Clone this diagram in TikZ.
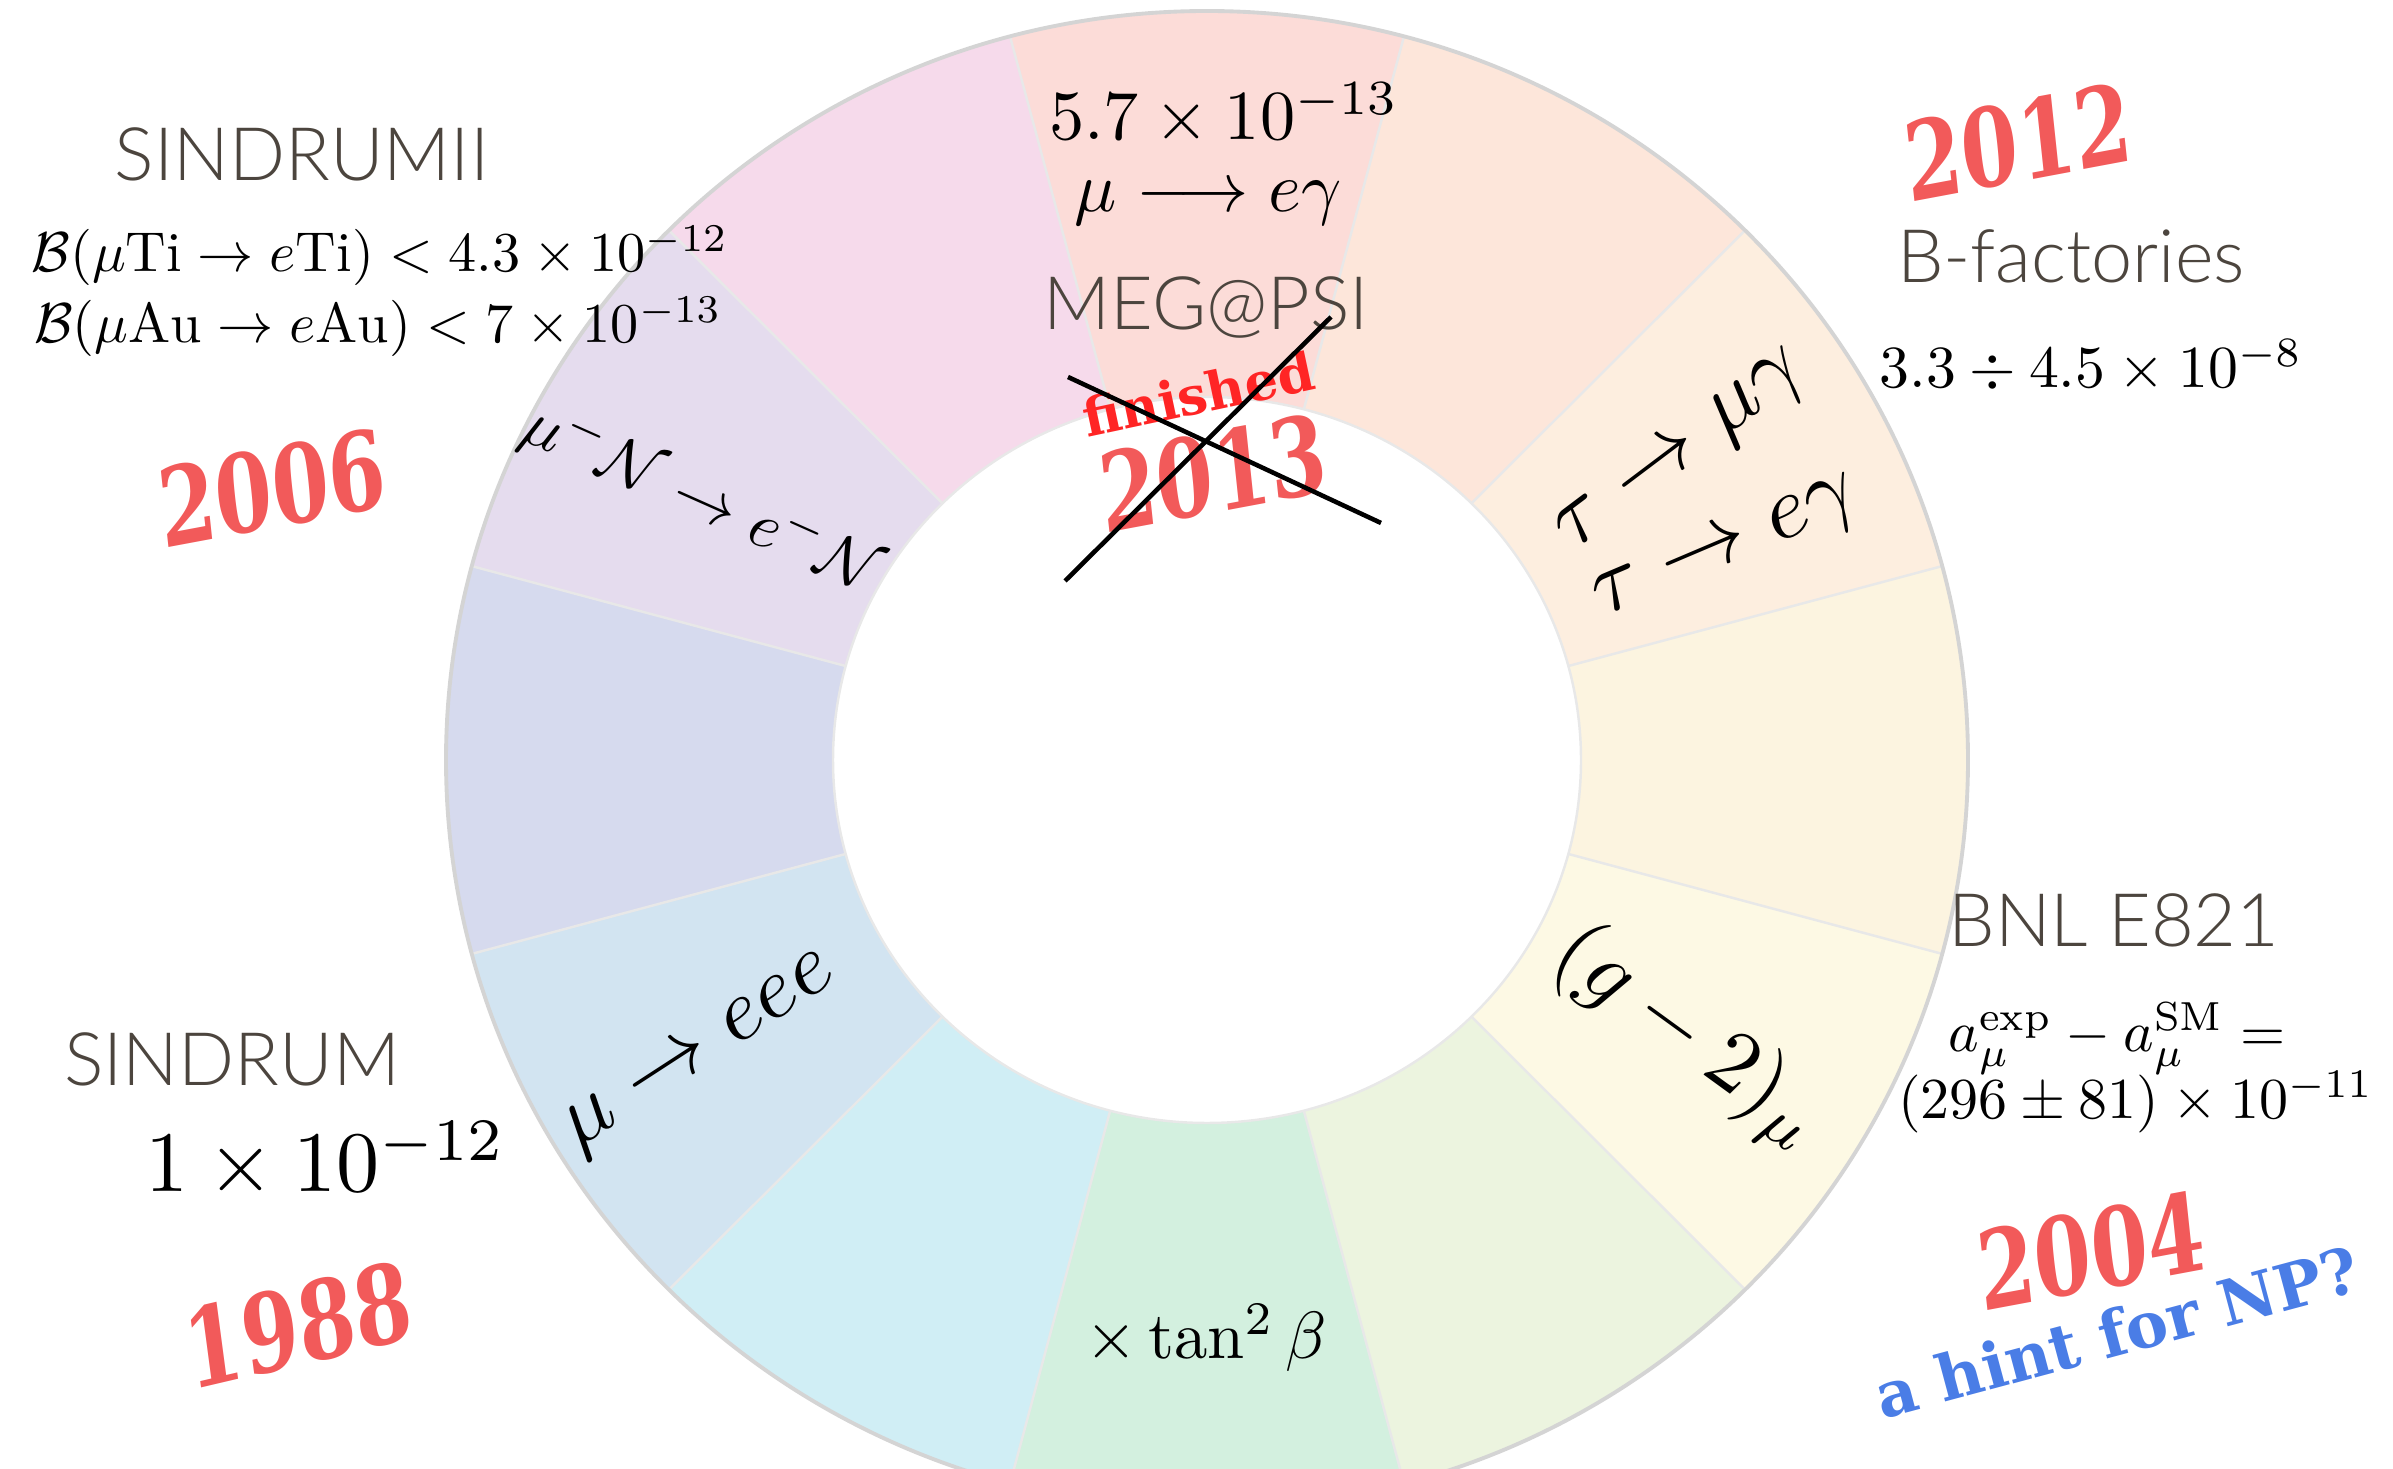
\documentclass[tikz,border=0pt]{standalone}
\usepackage{amsmath}
\usepackage{fontspec}
\newfontfamily\labfont{Lato Light}
\newfontfamily\stampfont{DejaVu Serif}
\definecolor{sA}{HTML}{FCDCD8}
\definecolor{sB}{HTML}{FDE6DA}
\definecolor{sC}{HTML}{FDEEDF}
\definecolor{sD}{HTML}{FCF4E0}
\definecolor{sE}{HTML}{FDF9E4}
\definecolor{sF}{HTML}{ECF4DF}
\definecolor{sG}{HTML}{D3F0DF}
\definecolor{sH}{HTML}{D0EEF5}
\definecolor{sI}{HTML}{D2E4F1}
\definecolor{sJ}{HTML}{D6DAEE}
\definecolor{sK}{HTML}{E5DCEE}
\definecolor{sL}{HTML}{F6DAEB}
\definecolor{labgrey}{HTML}{4C453E}
\definecolor{stampred}{HTML}{F25A5A}
\definecolor{finred}{HTML}{FF2525}
\definecolor{hintblue}{HTML}{4A7DE6}
\tikzset{
  sep/.style={draw=black!9, line width=0.7pt},
  rim/.style={draw=black!17, line width=1.1pt},
  lab/.style={font=\labfont, text=labgrey, inner sep=0pt, scale=2.1},
  mth/.style={inner sep=0pt, text=black},
  yearstamp/.style={font=\stampfont\bfseries, text=stampred, inner sep=0pt, xscale=2.33, yscale=3.1},
  crossline/.style={draw=black, line width=1.3pt}
}
\begin{document}
\begin{tikzpicture}[x=0.1mm,y=-0.1mm]
\useasboundingbox (0,0) rectangle (2393,1469);
\begin{scope}
\clip (0,0) rectangle (2393,1469);
\begin{scope}[shift={(1207,760)},yscale=-1]
\foreach \a/\c in {75/sA,45/sB,15/sC,-15/sD,-45/sE,-75/sF,-105/sG,-135/sH,-165/sI,165/sJ,135/sK,105/sL}{
  \fill[\c] (\a:761 and 749) arc[start angle=\a,end angle={\a+30},x radius=761,y radius=749]
     -- ({\a+30}:374 and 363) arc[start angle={\a+30},end angle=\a,x radius=374,y radius=363] -- cycle;
}
\foreach \a in {15,45,75,105,135,165,195,225,255,285,315,345}{
  \draw[sep] (\a:374 and 363) -- (\a:761 and 749);
}
\draw[sep] (0,0) ellipse [x radius=374, y radius=363];
\draw[rim] (0,0) ellipse [x radius=761, y radius=749];
\end{scope}
\end{scope}

% left
\node[lab] (sindII) at (302,154) {SINDRUMII};
\node[mth, scale=1.6] (ti) at (380,256) {$\mathcal{B}(\mu\mathrm{Ti}\to e\mathrm{Ti})<4.3\times10^{-12}$};
\node[mth, scale=1.6] (au) at (378,327) {$\mathcal{B}(\mu\mathrm{Au}\to e\mathrm{Au})<7\times10^{-13}$};
\node[yearstamp, rotate=8] (y2006) at (272,488) {2006};
\node[lab] (sind) at (232,1059) {SINDRUM};
\node[mth, scale=2.45] (sval) at (326,1160) {$1\times10^{-12}$};
\node[yearstamp, rotate=10] (y1988) at (298,1325) {1988};

% top
\node[mth, scale=2.0] (meglim) at (1224,114) {$5.7\times10^{-13}$};
\node[mth, scale=2.0] (mueg) at (1208,203) {$\mu\longrightarrow e\gamma$};
\node[lab] (meg) at (1206,307) {MEG@PSI};
\node[font=\stampfont\bfseries, text=finred, inner sep=0pt, scale=1.5, rotate=12] (fin) at (1198,394) {finished};
\node[yearstamp, rotate=8] (y2013) at (1213,473) {2013};
\coordinate (xa1) at (1068,377);
\coordinate (xa2) at (1381,523);
\coordinate (xb1) at (1331,317);
\coordinate (xb2) at (1065,581);
\draw[crossline] (xa1) -- (xa2);
\draw[crossline] (xb1) -- (xb2);

% right
\node[yearstamp, rotate=8] (y2012) at (2018,142) {2012};
\node[lab] (bfac) at (2071,256) {B-factories};
\node[mth, scale=1.7] (bval) at (2091,366) {$3.3\div4.5\times10^{-8}$};
\node[lab] (bnl) at (2114,920) {BNL E821};
\node[mth, scale=1.65] (amu) at (2117,1038) {$a_\mu^{\mathrm{exp}}-a_\mu^{\mathrm{SM}}=$};
\node[mth, scale=1.65] (amuval) at (2136,1102) {$(296\pm81)\times10^{-11}$};
\node[yearstamp, rotate=8] (y2004) at (2091,1251) {2004};
\node[font=\stampfont\bfseries, text=hintblue, inner sep=0pt, scale=1.8, rotate=15] (hint) at (2117,1332) {a hint for NP?};

% ring labels
\node[mth, scale=1.85, rotate=-24] (muN) at (702,499) {$\mu^-\mathcal{N}\to e^-\mathcal{N}$};
\node[mth, scale=2.55, rotate=37] (tau1) at (1684,455) {$\tau\to\mu\gamma$};
\node[mth, scale=2.55, rotate=23] (tau2) at (1728,552) {$\tau\to e\gamma$};
\node[mth, scale=2.5, rotate=-36] (g2) at (1688,1038) {$(g-2)_\mu$};
\node[mth, scale=1.9] (tanb) at (1206,1338) {$\times\tan^2\beta$};
\node[mth, scale=2.5, rotate=33] (eee) at (702,1056) {$\mu\to eee$};
\end{tikzpicture}
\end{document}
